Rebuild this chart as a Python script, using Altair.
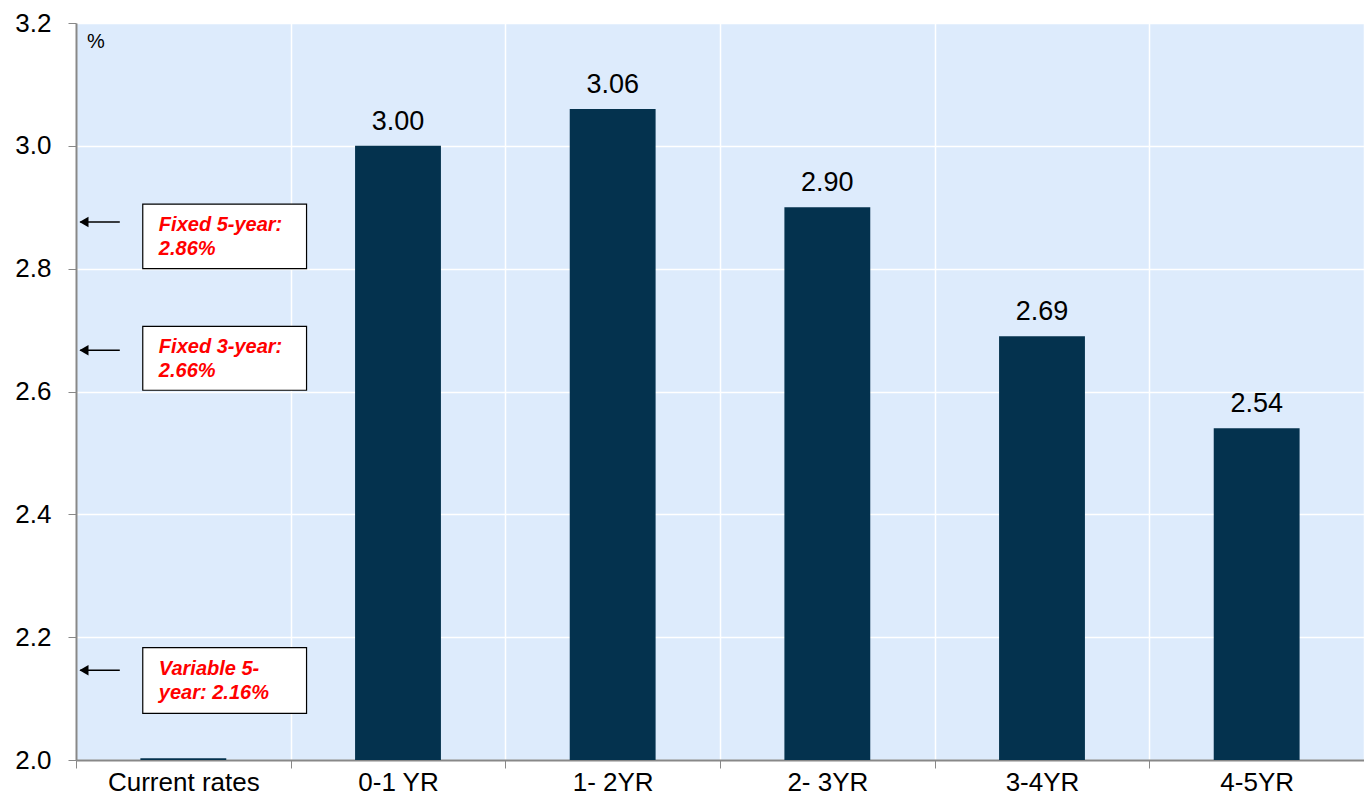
import altair as alt
import pandas as pd

categories = ["Current rates", "0-1 YR", "1- 2YR", "2- 3YR", "3-4YR", "4-5YR"]
values = [2.003, 3.00, 3.06, 2.90, 2.69, 2.54]
labels = ["", "3.00", "3.06", "2.90", "2.69", "2.54"]

# annotations (x in category units from the left edge, y in %)
ann_lines = [["Fixed 5-year:", "2.86%"], ["Fixed 3-year:", "2.66%"], ["Variable 5-", "year: 2.16%"]]
ann_arrow_y = [2.876, 2.667, 2.146]
ann_box_top = [2.905, 2.706, 2.183]
ann_box_bottom = [2.800, 2.602, 2.076]

bars_df = pd.DataFrame({"cat": categories, "val": values, "lab": labels})
ann_df = pd.DataFrame({
    "lines": ann_lines,
    "ay": ann_arrow_y,
    "top": ann_box_top,
    "bot": ann_box_bottom,
    "bx1": [0.311] * 3,
    "bx2": [1.074] * 3,
    "tx": [0.386] * 3,
    "ax1": [0.204] * 3,
    "ax2": [0.02] * 3,
    "hx": [0.037] * 3,
})
pct_df = pd.DataFrame({"x": [0.051], "y": [3.169], "t": ["%"]})

FONT = "Liberation Sans"
ydom = [2.0, 3.2]

xband = alt.X(
    "cat:N",
    sort=categories,
    title=None,
    scale=alt.Scale(paddingInner=0, paddingOuter=0),
    axis=alt.Axis(
        labelAngle=0, labelFontSize=26, labelFont=FONT, labelColor="black",
        tickBand="extent", grid=True, gridColor="white", gridWidth=1.5,
        tickColor="#888888", tickSize=8, domainColor="#888888", domainWidth=2,
        labelPadding=1,
    ),
)
yq = alt.Y(
    "val:Q",
    title=None,
    scale=alt.Scale(domain=ydom, nice=False, zero=False),
    axis=alt.Axis(
        values=[2.0, 2.2, 2.4, 2.6, 2.8, 3.0, 3.2], format=".1f",
        labelFontSize=26, labelFont=FONT, labelColor="black",
        grid=True, gridColor="white", gridWidth=1.5,
        tickColor="#888888", tickSize=8, domainColor="#888888", domainWidth=2,
        labelPadding=17,
    ),
)

bars = alt.Chart(bars_df).mark_bar(color="#04324E", width={"band": 0.4}, clip=True).encode(x=xband, y=yq)
vals = alt.Chart(bars_df).mark_text(
    fontSize=27, font=FONT, color="black", baseline="bottom", dy=-10
).encode(x=alt.X("cat:N", sort=categories), y="val:Q", text="lab:N")

base = alt.layer(bars, vals)

xq = alt.Scale(domain=[0, 6], nice=False, zero=False)
yq2 = alt.Scale(domain=ydom, nice=False, zero=False)

boxes = alt.Chart(ann_df).mark_rect(fill="white", stroke="black", strokeWidth=1.2).encode(
    x=alt.X("bx1:Q", scale=xq, axis=None), x2="bx2:Q",
    y=alt.Y("top:Q", scale=yq2, axis=None), y2="bot:Q",
)
texts = alt.Chart(ann_df).mark_text(
    font=FONT, fontSize=20, fontWeight="bold", fontStyle="italic", color="#FF0000",
    align="left", baseline="top", lineHeight=24, dy=11,
).encode(
    x=alt.X("tx:Q", scale=xq, axis=None),
    y=alt.Y("top:Q", scale=yq2, axis=None),
    text="lines",
)
arrows = alt.Chart(ann_df).mark_rule(color="black", strokeWidth=1.5).encode(
    x=alt.X("ax1:Q", scale=xq, axis=None), x2="ax2:Q",
    y=alt.Y("ay:Q", scale=yq2, axis=None),
)
heads = alt.Chart(ann_df).mark_point(
    shape="triangle-left", filled=True, color="black", opacity=1, size=110
).encode(
    x=alt.X("hx:Q", scale=xq, axis=None),
    y=alt.Y("ay:Q", scale=yq2, axis=None),
)
pct = alt.Chart(pct_df).mark_text(
    font=FONT, fontSize=20, color="black", align="left", baseline="middle"
).encode(
    x=alt.X("x:Q", scale=xq, axis=None),
    y=alt.Y("y:Q", scale=yq2, axis=None),
    text="t:N",
)

ann = alt.layer(arrows, heads, boxes, texts, pct)

chart = alt.layer(base, ann).resolve_scale(x="independent", y="independent").properties(
    width=1288, height=737,
    autosize=alt.AutoSizeParams(type="none"),
    padding={"left": 68, "top": 15, "right": 0, "bottom": 40},
    background="white",
).configure_view(fill="#DDEBFC", stroke=None)

chart.save("out.html", embed_options={"renderer": "svg", "actions": False})
